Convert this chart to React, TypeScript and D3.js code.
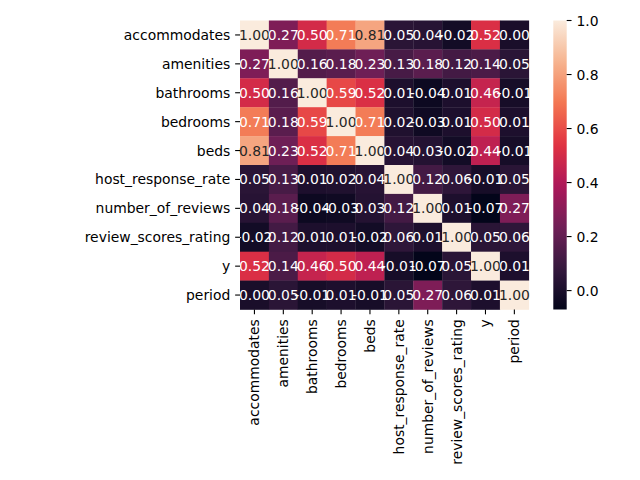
import React from "react";
import * as d3 from "d3";

const labels = [
  "accommodates",
  "amenities",
  "bathrooms",
  "bedrooms",
  "beds",
  "host_response_rate",
  "number_of_reviews",
  "review_scores_rating",
  "y",
  "period",
];

const rowAccommodates = [1.0, 0.27, 0.5, 0.71, 0.81, 0.05, 0.04, -0.02, 0.52, 0.0];
const rowAmenities = [0.27, 1.0, 0.16, 0.18, 0.23, 0.13, 0.18, 0.12, 0.14, 0.05];
const rowBathrooms = [0.5, 0.16, 1.0, 0.59, 0.52, 0.01, -0.04, 0.01, 0.46, -0.01];
const rowBedrooms = [0.71, 0.18, 0.59, 1.0, 0.71, 0.02, -0.03, 0.01, 0.5, 0.01];
const rowBeds = [0.81, 0.23, 0.52, 0.71, 1.0, 0.04, 0.03, -0.02, 0.44, -0.01];
const rowHostResponse = [0.05, 0.13, 0.01, 0.02, 0.04, 1.0, 0.12, 0.06, -0.01, 0.05];
const rowNumReviews = [0.04, 0.18, -0.04, -0.03, 0.03, 0.12, 1.0, 0.01, -0.07, 0.27];
const rowReviewScores = [-0.02, 0.12, 0.01, 0.01, -0.02, 0.06, 0.01, 1.0, 0.05, 0.06];
const rowY = [0.52, 0.14, 0.46, 0.5, 0.44, -0.01, -0.07, 0.05, 1.0, 0.01];
const rowPeriod = [0.0, 0.05, -0.01, 0.01, -0.01, 0.05, 0.27, 0.06, 0.01, 1.0];

const matrix = [
  rowAccommodates,
  rowAmenities,
  rowBathrooms,
  rowBedrooms,
  rowBeds,
  rowHostResponse,
  rowNumReviews,
  rowReviewScores,
  rowY,
  rowPeriod,
];

const colorbarTicks = [0.0, 0.2, 0.4, 0.6, 0.8, 1.0];

const vmin = -0.07;
const vmax = 1.0;

const rocketStops = [
  "#03051a",
  "#35193e",
  "#701f57",
  "#ad1759",
  "#e13342",
  "#f37651",
  "#f6b48f",
  "#faebdd",
];

const rocketInterp = (t: number) => {
  const n = rocketStops.length - 1;
  const tt = Math.max(0, Math.min(1, t));
  const i = Math.min(n - 1, Math.floor(tt * n));
  const f = tt * n - i;
  return d3.interpolateRgb(rocketStops[i], rocketStops[i + 1])(f);
};

const color = d3.scaleSequential((t: number) => rocketInterp(t)).domain([vmin, vmax]);

function relLum(c: string) {
  const rgb = d3.rgb(c);
  const ch = [rgb.r, rgb.g, rgb.b].map((v) => {
    const x = v / 255;
    return x <= 0.03928 ? x / 12.92 : Math.pow((x + 0.055) / 1.055, 2.4);
  });
  return 0.2126 * ch[0] + 0.7152 * ch[1] + 0.0722 * ch[2];
}

const FONT = "DejaVu Sans, sans-serif";
const FS = 13.9;

export default function App() {
  const left = 240;
  const right = 528.8;
  const top = 20.5;
  const bottom = 309.5;

  const x = d3.scaleBand<string>().domain(labels).range([left, right]).padding(0);
  const y = d3.scaleBand<string>().domain(labels).range([top, bottom]).padding(0);

  const cbLeft = 553.3;
  const cbRight = 566.7;
  const cbScale = d3.scaleLinear().domain([vmin, vmax]).range([bottom, top]);
  const gradStops = d3.range(0, 1.0001, 1 / 32);

  const tickLen = 4.86;
  const pad = 4.86;

  return (
    <svg
      width={640}
      height={480}
      style={{ position: "absolute", left: 0, top: 0, background: "#fff" }}
      fontFamily={FONT}
    >
      <defs>
        <linearGradient id="cbgrad" x1="0" y1="1" x2="0" y2="0">
          {gradStops.map((s, i) => (
            <stop key={i} offset={s} stopColor={rocketInterp(s)} />
          ))}
        </linearGradient>
      </defs>
      <rect x={0} y={0} width={640} height={480} fill="#fff" />
      {matrix.map((row, i) =>
        row.map((v, j) => {
          const c = color(v) as string;
          return (
            <rect
              key={`c-${i}-${j}`}
              x={x(labels[j])!}
              y={y(labels[i])!}
              width={x.bandwidth() + 0.3}
              height={y.bandwidth() + 0.3}
              fill={c}
            />
          );
        })
      )}
      {matrix.map((row, i) =>
        row.map((v, j) => {
          const c = color(v) as string;
          const tc = relLum(c) > 0.408 ? "#262626" : "#ffffff";
          return (
            <text
              key={`t-${i}-${j}`}
              x={x(labels[j])! + x.bandwidth() / 2}
              y={y(labels[i])! + y.bandwidth() / 2}
              textAnchor="middle"
              dominantBaseline="central"
              fontSize={FS}
              fill={tc}
            >
              {v.toFixed(2)}
            </text>
          );
        })
      )}
      {labels.map((l) => {
        const cy = y(l)! + y.bandwidth() / 2;
        return (
          <g key={`y-${l}`}>
            <line x1={left} x2={left - tickLen} y1={cy} y2={cy} stroke="#000" strokeWidth={1.1} />
            <text
              x={left - tickLen - pad}
              y={cy}
              textAnchor="end"
              dominantBaseline="central"
              fontSize={FS}
              fill="#000"
            >
              {l}
            </text>
          </g>
        );
      })}
      {labels.map((l) => {
        const cx = x(l)! + x.bandwidth() / 2;
        const ty = bottom + tickLen + pad;
        return (
          <g key={`x-${l}`}>
            <line x1={cx} x2={cx} y1={bottom} y2={bottom + tickLen} stroke="#000" strokeWidth={1.1} />
            <text
              transform={`translate(${cx},${ty}) rotate(-90)`}
              textAnchor="end"
              dominantBaseline="central"
              fontSize={FS}
              fill="#000"
            >
              {l}
            </text>
          </g>
        );
      })}
      <rect
        x={cbLeft}
        y={cbScale(vmax)}
        width={cbRight - cbLeft}
        height={cbScale(vmin) - cbScale(vmax)}
        fill="url(#cbgrad)"
      />
      {colorbarTicks.map((t) => {
        const ty = cbScale(t);
        return (
          <g key={`cbt-${t}`}>
            <line x1={cbRight} x2={cbRight + tickLen} y1={ty} y2={ty} stroke="#000" strokeWidth={1.1} />
            <text
              x={cbRight + tickLen + pad}
              y={ty}
              textAnchor="start"
              dominantBaseline="central"
              fontSize={FS}
              fill="#000"
            >
              {t.toFixed(1)}
            </text>
          </g>
        );
      })}
    </svg>
  );
}
